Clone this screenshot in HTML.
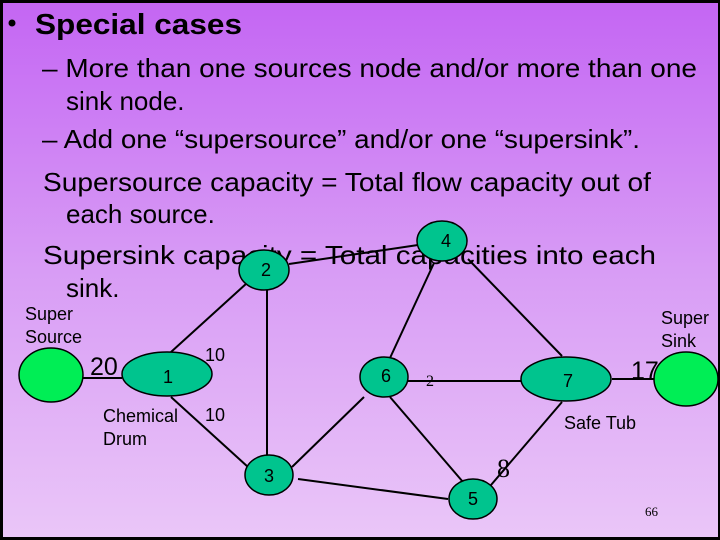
<!DOCTYPE html>
<html><head><meta charset="utf-8"><style>
html,body{margin:0;padding:0;width:720px;height:540px;overflow:hidden;background:#000}
svg{display:block}
</style></head><body>
<svg width="720" height="540" viewBox="0 0 720 540" xmlns="http://www.w3.org/2000/svg">
<defs><linearGradient id="bg" x1="0" y1="0" x2="0" y2="1">
<stop offset="0" stop-color="#c466f3"/><stop offset="0.5" stop-color="#d89cf5"/><stop offset="1" stop-color="#eac6f8"/></linearGradient></defs>
<rect x="0" y="0" width="720" height="540" fill="#000"/>
<rect x="3" y="3" width="715" height="534" fill="url(#bg)"/>
<g font-family="Liberation Sans, sans-serif" fill="#000">
<circle cx="12" cy="23" r="3.5"/>
<text x="35" y="34" font-size="29" font-weight="bold" textLength="207" lengthAdjust="spacingAndGlyphs">Special cases</text>
<g font-size="26">
<text x="42" y="77" textLength="655" lengthAdjust="spacingAndGlyphs">– More than one sources node and/or more than one</text>
<text x="66" y="110">sink node.</text>
<text x="42" y="148" textLength="598" lengthAdjust="spacingAndGlyphs">– Add one “supersource” and/or one “supersink”.</text>
<text x="43" y="191" textLength="608" lengthAdjust="spacingAndGlyphs">Supersource capacity = Total flow capacity out of</text>
<text x="66" y="223">each source.</text>
<text x="43" y="264" textLength="613" lengthAdjust="spacingAndGlyphs">Supersink capacity = Total capacities into each</text>
<text x="66" y="297">sink.</text>
</g>
</g>
<g stroke="#000" stroke-width="2" fill="none">
<line x1="83" y1="378" x2="122" y2="378"/>
<line x1="171" y1="352" x2="247" y2="283"/>
<line x1="171" y1="397" x2="248" y2="467"/>
<line x1="267" y1="290" x2="267" y2="455"/>
<line x1="289" y1="264" x2="418" y2="245"/>
<line x1="292" y1="467" x2="364" y2="397"/>
<line x1="298" y1="479" x2="448" y2="499"/>
<line x1="434" y1="263" x2="390" y2="358"/>
<line x1="468" y1="259" x2="562" y2="356"/>
<line x1="407" y1="381" x2="521" y2="381"/>
<line x1="390" y1="397" x2="463" y2="482"/>
<line x1="562" y1="402" x2="491" y2="485"/>
<line x1="612" y1="379" x2="654" y2="379"/>
</g>
<g stroke="#000" stroke-width="1.5">
<ellipse cx="51" cy="375" rx="32" ry="27" fill="#00ee55"/>
<ellipse cx="686" cy="379" rx="32" ry="27" fill="#00ee55"/>
<ellipse cx="167" cy="374" rx="45" ry="22" fill="#00c48e"/>
<ellipse cx="566" cy="379" rx="45" ry="22" fill="#00c48e"/>
<ellipse cx="264" cy="270" rx="25" ry="20" fill="#00c48e"/>
<ellipse cx="269" cy="475" rx="24" ry="20" fill="#00c48e"/>
<ellipse cx="384" cy="377" rx="24" ry="20" fill="#00c48e"/>
<ellipse cx="442" cy="241" rx="25" ry="20" fill="#00c48e"/>
<ellipse cx="473" cy="499" rx="24" ry="20" fill="#00c48e"/>
</g>
<g font-family="Liberation Sans, sans-serif" fill="#000" font-size="18" text-anchor="middle">
<text x="168" y="383">1</text>
<text x="266" y="276">2</text>
<text x="269" y="482">3</text>
<text x="446" y="247">4</text>
<text x="473" y="505">5</text>
<text x="386" y="382">6</text>
<text x="568" y="387">7</text>
</g>
<g font-family="Liberation Sans, sans-serif" fill="#000" font-size="18">
<text x="25" y="320">Super</text>
<text x="25" y="343">Source</text>
<text x="103" y="422">Chemical</text>
<text x="103" y="445">Drum</text>
<text x="564" y="429">Safe Tub</text>
<text x="661" y="324">Super</text>
<text x="661" y="347">Sink</text>
<text x="205" y="361">10</text>
<text x="205" y="421">10</text>
<text x="90" y="375" font-size="25">20</text>
<text x="631" y="379" font-size="25">17</text>
</g>
<g font-family="Liberation Serif, serif" fill="#000">
<text x="426" y="386" font-size="16">2</text>
<text x="497" y="477" font-size="26">8</text>
<text x="645" y="516" font-size="13">66</text>
</g>
</svg>
</body></html>
